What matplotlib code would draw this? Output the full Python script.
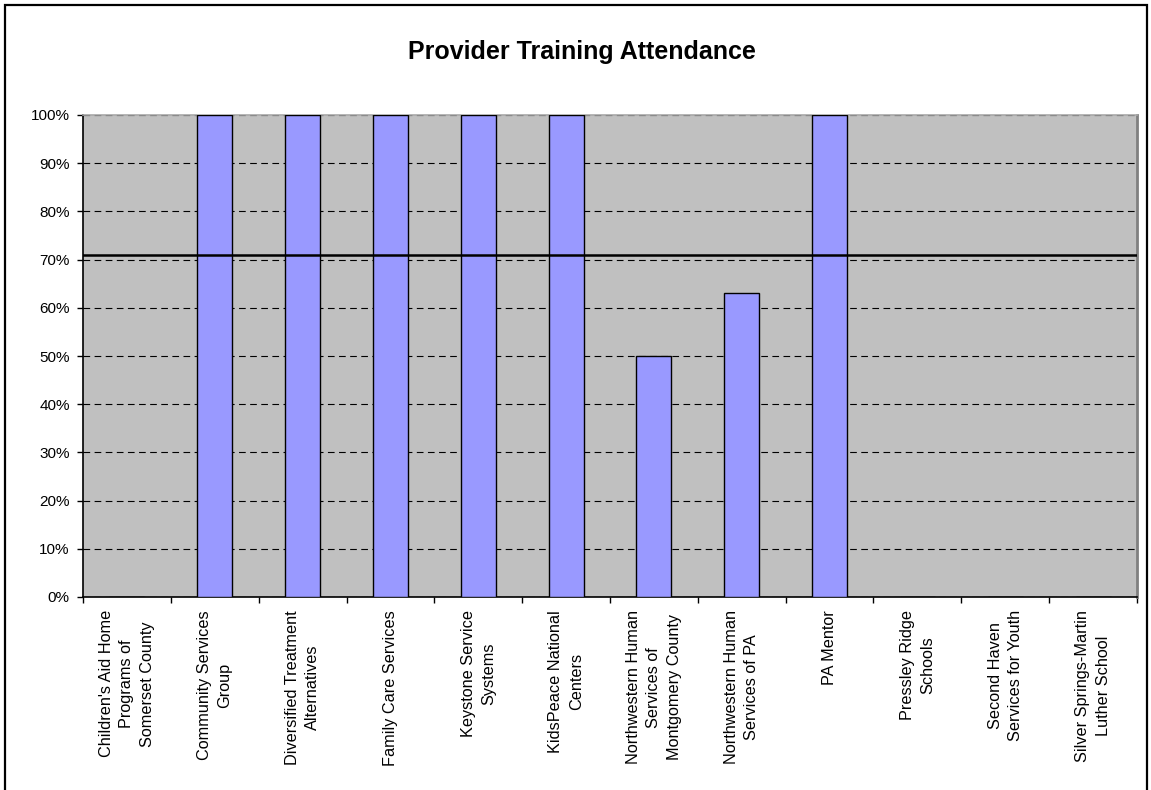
import matplotlib
matplotlib.use("Agg")
import matplotlib.pyplot as plt
from matplotlib.patches import Rectangle
from matplotlib.ticker import FixedLocator, PercentFormatter
import numpy as np

plt.rcParams['font.family'] = ['Liberation Sans', 'DejaVu Sans']

# chart data
providers = [
    "Children's Aid Home\nPrograms of\nSomerset County",
    "Community Services\nGroup",
    "Diversified Treatment\nAlternatives",
    "Family Care Services",
    "Keystone Service\nSystems",
    "KidsPeace National\nCenters",
    "Northwestern Human\nServices of\nMontgomery County",
    "Northwestern Human\nServices of PA",
    "PA Mentor",
    "Pressley Ridge\nSchools",
    "Second Haven\nServices for Youth",
    "Silver Springs-Martin\nLuther School",
]
attendance = [0, 100, 100, 100, 100, 100, 50, 63, 100, 0, 0, 0]
target = 71
y_ticks = [0, 10, 20, 30, 40, 50, 60, 70, 80, 90, 100]

W, H = 1151, 790
fig = plt.figure(figsize=(W / 100, H / 100), dpi=100)

# outer chart border (bottom edge runs off the image, as in the source)
fig.patches.append(Rectangle((5 / W, -10 / H), 1142 / W, 795 / H, transform=fig.transFigure,
                             fill=False, edgecolor='black', linewidth=1.6))

ax = fig.add_axes([83 / W, (H - 597) / H, (1137 - 83) / W, 482 / H])
ax.set_facecolor('#C0C0C0')

x = np.arange(len(providers))
ax.bar(x, attendance, width=0.4, color='#9999FF', edgecolor='black', linewidth=1.0, zorder=3)
ax.axhline(target, color='black', linewidth=1.8, zorder=4)

ax.set_xlim(-0.5, len(providers) - 0.5)
ax.set_ylim(0, 100)

ax.set_yticks(y_ticks)
ax.yaxis.set_major_formatter(PercentFormatter(decimals=0))
ax.tick_params(axis='y', direction='out', length=4, width=1, pad=5.5, labelsize=11)
ax.grid(axis='y', color='black', linestyle=(0, (6, 4)), linewidth=0.8, zorder=1)

ax.set_xticks(x)
ax.set_xticklabels(providers, rotation=90, ha='center', va='top', multialignment='center',
                   fontsize=11.7, linespacing=1.45)
ax.tick_params(axis='x', which='major', length=0, pad=9.5)
ax.xaxis.set_minor_locator(FixedLocator(np.arange(len(providers) + 1) - 0.5))
ax.tick_params(axis='x', which='minor', direction='out', length=4, width=1)

for side in ['left', 'bottom']:
    ax.spines[side].set_color('black')
    ax.spines[side].set_linewidth(1.2)
ax.spines['top'].set_color('#A8A8A8')
ax.spines['top'].set_linewidth(1.2)
ax.spines['right'].set_color('#808080')
ax.spines['right'].set_linewidth(2)
ax.set_axisbelow(True)

fig.text(582 / W, 1 - 52 / H, 'Provider Training Attendance', ha='center', va='center',
         fontsize=18, fontweight='bold')

fig.savefig('out.png', dpi=100)
